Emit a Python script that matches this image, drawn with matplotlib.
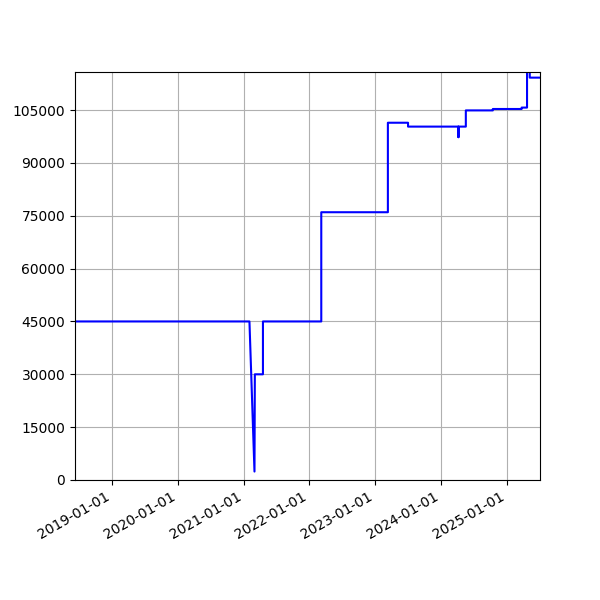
import pandas as pd
import matplotlib
matplotlib.use('Agg')
import matplotlib.pyplot as plt
import matplotlib.dates as mdates
from matplotlib.ticker import MultipleLocator

# Points (value held until the next date)
dates = ['2018-06-10', '2021-02-03', '2021-03-03', '2021-03-05', '2021-04-19', '2021-04-19',
         '2022-03-09', '2022-03-09', '2023-03-14', '2023-03-14', '2023-07-04', '2023-07-04',
         '2024-04-09', '2024-04-09', '2024-04-09', '2024-05-20', '2024-05-20', '2024-10-17',
         '2024-10-17', '2025-03-26', '2025-03-26', '2025-04-25', '2025-04-25', '2025-05-10',
         '2025-05-10', '2025-07-06']
values = [45000, 45000, 2400, 30000, 30000, 45000,
          45000, 76000, 76000, 101400, 101400, 100300,
          100300, 97300, 100300, 100300, 104900, 104900,
          105300, 105300, 105700, 105700, 118000, 118000,
          114200, 114200]

x = pd.to_datetime(dates)

fig, ax = plt.subplots(figsize=(6, 6), dpi=100)
ax.plot(x, values, color='blue')
ax.set_xlim(pd.Timestamp('2018-06-10'), pd.Timestamp('2025-07-06'))
ax.set_ylim(0, 115800)
ax.yaxis.set_major_locator(MultipleLocator(15000))
ax.xaxis.set_major_locator(mdates.YearLocator())
ax.xaxis.set_major_formatter(mdates.DateFormatter('%Y-%m-%d'))
ax.grid(True)
fig.autofmt_xdate()
fig.savefig('out.png')
